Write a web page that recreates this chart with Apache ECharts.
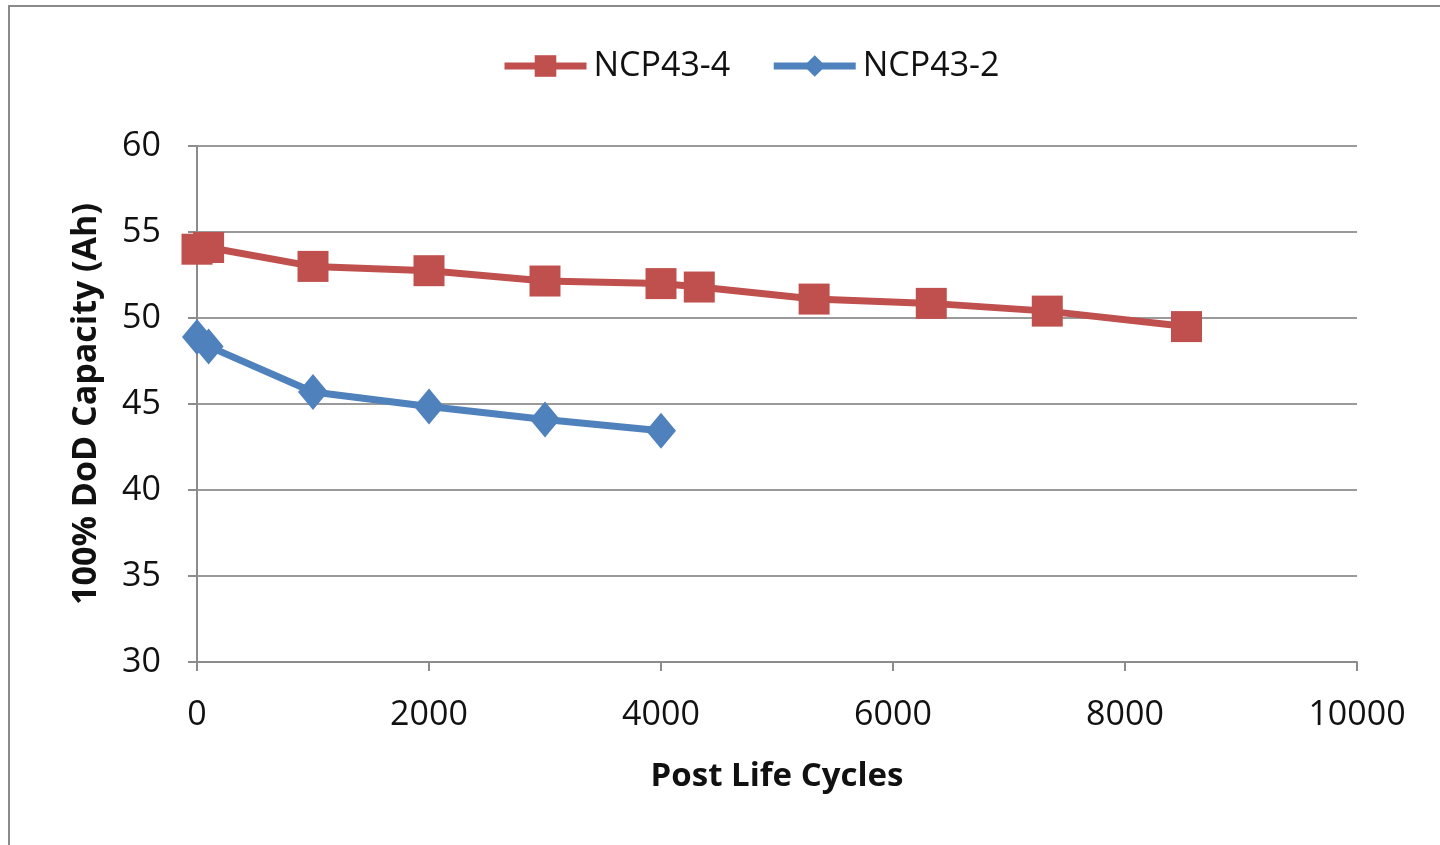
<!DOCTYPE html>
<html>
<head>
<meta charset="utf-8">
<script src="https://cdn.jsdelivr.net/npm/echarts@6/dist/echarts.min.js"></script>
<style>
  html, body { margin: 0; padding: 0; background: #fff; }
  #frame {
    position: absolute; left: 8px; top: 5px; width: 1440px; height: 845px;
    border-top: 2px solid #8a8a8a; border-left: 2px solid #8a8a8a;
  }
  #chart { position: absolute; left: 0; top: 0; width: 1440px; height: 845px; }
</style>
</head>
<body>
<div id="frame"></div>
<div id="chart"></div>
<script>
// Post life cycle capacity data for two cells
const seriesNames = ['NCP43-4', 'NCP43-2'];
const cyclesNCP43_4 = [0, 100, 1000, 2000, 3000, 4000, 4330, 5320, 6330, 7330, 8530];
const capacityNCP43_4 = [54.0, 54.1, 53.0, 52.75, 52.15, 52.0, 51.8, 51.1, 50.85, 50.4, 49.5];
const cyclesNCP43_2 = [0, 100, 1000, 2000, 3000, 4000];
const capacityNCP43_2 = [48.9, 48.35, 45.7, 44.85, 44.1, 43.45];

const xTitle = 'Post Life Cycles';
const yTitle = '100% DoD Capacity (Ah)';

const pairs = (xs, ys) => xs.map((x, i) => [x, ys[i]]);

const chart = echarts.init(document.getElementById('chart'), null, { renderer: 'canvas' });
const axisGray = '#8c8c8c';
const font = '"Open Sans", "Liberation Sans", sans-serif';

chart.setOption({
  animation: false,
  backgroundColor: 'transparent',
  textStyle: { fontFamily: font },
  legend: {
    top: 44,
    left: 496,
    itemWidth: 82,
    itemHeight: 27,
    itemGap: 40,
    textStyle: { fontFamily: font, fontSize: 34, color: '#111', padding: [0, 0, 0, 2] },
    data: [
      { name: seriesNames[0], lineStyle: { width: 7 } },
      { name: seriesNames[1], lineStyle: { width: 7 } }
    ]
  },
  grid: { left: 197, right: 83, top: 146, bottom: 183, containLabel: false },
  xAxis: {
    type: 'value',
    min: 0, max: 10000, interval: 2000,
    name: xTitle,
    nameLocation: 'middle',
    nameGap: 98,
    nameTextStyle: { fontFamily: font, fontSize: 33, fontWeight: 'bold', color: '#111' },
    axisLine: { show: true, lineStyle: { color: axisGray, width: 2 } },
    axisTick: { show: true, length: 9, lineStyle: { color: axisGray, width: 2 } },
    axisLabel: { fontFamily: font, fontSize: 34, color: '#111', margin: 36, formatter: v => String(v) },
    splitLine: { show: false }
  },
  yAxis: {
    type: 'value',
    min: 30, max: 60, interval: 5,
    name: yTitle,
    nameLocation: 'middle',
    nameGap: 94,
    nameTextStyle: { fontFamily: font, fontSize: 34, fontWeight: 'bold', color: '#111' },
    axisLine: { show: true, lineStyle: { color: axisGray, width: 2 } },
    axisTick: { show: true, length: 9, lineStyle: { color: axisGray, width: 2 } },
    axisLabel: { fontFamily: font, fontSize: 34, color: '#111', margin: 36 },
    splitLine: { show: true, lineStyle: { color: '#9a9a9a', width: 2 } }
  },
  series: [
    {
      name: seriesNames[0],
      type: 'line',
      data: pairs(cyclesNCP43_4, capacityNCP43_4),
      symbol: 'rect',
      symbolSize: 31,
      showAllSymbol: true,
      lineStyle: { color: '#C0504D', width: 7 },
      itemStyle: { color: '#C0504D' },
      z: 3
    },
    {
      name: seriesNames[1],
      type: 'line',
      data: pairs(cyclesNCP43_2, capacityNCP43_2),
      symbol: 'diamond',
      symbolSize: [30, 36],
      showAllSymbol: true,
      lineStyle: { color: '#4F81BD', width: 7 },
      itemStyle: { color: '#4F81BD' },
      z: 3
    }
  ]
});
</script>
</body>
</html>
